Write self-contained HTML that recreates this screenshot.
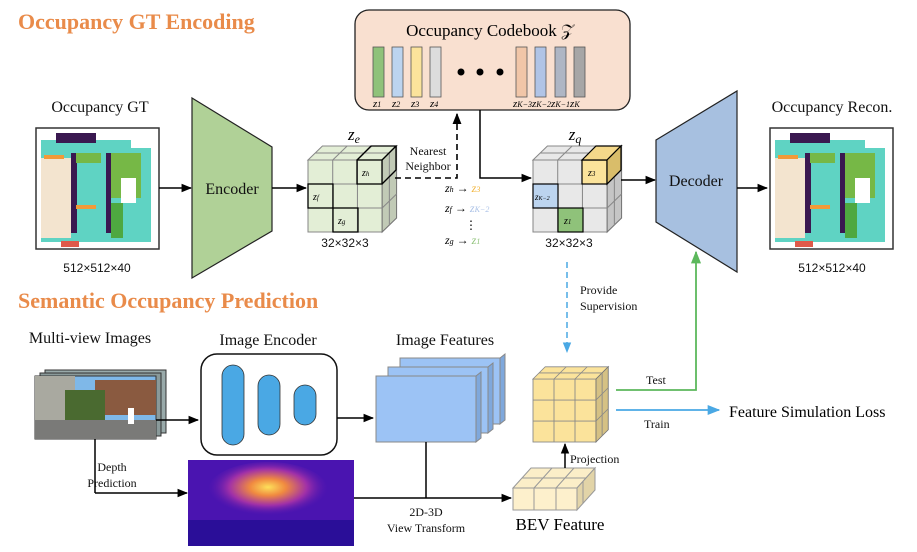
<!DOCTYPE html>
<html><head><meta charset="utf-8"><style>
html,body{margin:0;padding:0;background:#fff;}
svg{display:block;font-family:"Liberation Serif",serif;}
.t{font-size:16px;fill:#111;}
.s{font-size:12px;fill:#111;}
</style></head><body>
<svg width="917" height="552" viewBox="0 0 917 552" xmlns="http://www.w3.org/2000/svg">
<defs>
<marker id="a" viewBox="0 0 10 10" refX="9" refY="5" markerWidth="7" markerHeight="7" orient="auto"><path d="M0,1 L10,5 L0,9 z" fill="#000"/></marker>
<marker id="ab" viewBox="0 0 10 10" refX="9" refY="5" markerWidth="7" markerHeight="7" orient="auto"><path d="M0,1 L10,5 L0,9 z" fill="#4aa8e4"/></marker>
<marker id="ag" viewBox="0 0 10 10" refX="9" refY="5" markerWidth="7" markerHeight="7" orient="auto"><path d="M0,1 L10,5 L0,9 z" fill="#5cb85c"/></marker>
<g id="cube" stroke="#888" stroke-width="1">
 <rect x="0" y="0" width="72" height="72"/>
 <polygon points="0,0 14,-14 86,-14 72,0"/>
 <polygon points="72,0 86,-14 86,58 72,72" style="filter:brightness(0.85)"/>
 <path d="M24,0V72M48,0V72M0,24H72M0,48H72M24,0L38,-14M48,0L62,-14M7,-7H79M79,-7V65M72,24L86,10M72,48L86,34" fill="none"/>
</g>
<g id="map">
 <rect x="0" y="0" width="123" height="121" fill="#fff" stroke="#333" stroke-width="1.5"/>
 <rect x="5" y="12" width="110" height="102" fill="#5fd3c3"/>
 <rect x="5" y="30" width="30" height="80" fill="#f3e4cf"/>
 <rect x="20" y="5" width="40" height="10" fill="#3a1850"/>
 <rect x="35" y="25" width="6" height="80" fill="#3a1850"/>
 <rect x="70" y="25" width="5" height="80" fill="#3a1850"/>
 <rect x="75" y="25" width="30" height="45" fill="#76b846"/>
 <rect x="40" y="25" width="25" height="10" fill="#76b846"/>
 <rect x="75" y="75" width="12" height="35" fill="#4ea840"/>
 <rect x="8" y="27" width="20" height="4" fill="#f29a38"/>
 <rect x="40" y="77" width="20" height="4" fill="#f29a38"/>
 <rect x="25" y="113" width="18" height="6" fill="#e05a4a"/>
 <rect x="85" y="50" width="15" height="25" fill="#fff"/>
 <rect x="95" y="5" width="22" height="15" fill="#fff"/>
</g>
</defs>

<text x="18" y="29" font-size="22" font-weight="bold" fill="#e98b4a">Occupancy GT Encoding</text>
<text x="18" y="308" font-size="22" font-weight="bold" fill="#e98b4a">Semantic Occupancy Prediction</text>

<rect x="355" y="10" width="275" height="100" rx="14" fill="#f9e0d0" stroke="#222" stroke-width="1.3"/>
<text x="490" y="36" text-anchor="middle" font-size="17">Occupancy Codebook 𝒵</text>
<g stroke="#555" stroke-width="0.8">
 <rect x="373" y="47" width="11" height="50" fill="#8fc27a"/>
 <rect x="392" y="47" width="11" height="50" fill="#bcd4ef"/>
 <rect x="411" y="47" width="11" height="50" fill="#fbe39b"/>
 <rect x="430" y="47" width="11" height="50" fill="#dcdcdc"/>
 <rect x="516" y="47" width="11" height="50" fill="#f1c6a8"/>
 <rect x="535" y="47" width="11" height="50" fill="#b0c4e6"/>
 <rect x="555" y="47" width="11" height="50" fill="#aeb6c4"/>
 <rect x="574" y="47" width="11" height="50" fill="#a6a6a6"/>
</g>
<circle cx="461" cy="72" r="3.5"/><circle cx="480" cy="72" r="3.5"/><circle cx="500" cy="72" r="3.5"/>
<g font-size="11" font-style="italic"><text x="373" y="107">z<tspan font-size="8">1</tspan></text><text x="392" y="107">z<tspan font-size="8">2</tspan></text><text x="411" y="107">z<tspan font-size="8">3</tspan></text><text x="430" y="107">z<tspan font-size="8">4</tspan></text><text x="513" y="107">z<tspan font-size="8">K−3</tspan>z<tspan font-size="8">K−2</tspan>z<tspan font-size="8">K−1</tspan>z<tspan font-size="8">K</tspan></text></g>

<text x="100" y="112" text-anchor="middle" class="t">Occupancy GT</text>
<use href="#map" x="36" y="128"/>
<text x="97" y="272" text-anchor="middle" class="s" font-family="Liberation Sans">512×512×40</text>
<line x1="159" y1="188" x2="191" y2="188" stroke="#000" stroke-width="1.5" marker-end="url(#a)"/>
<polygon points="192,98 272,147 272,231 192,278" fill="#b0d197" stroke="#222" stroke-width="1.2"/>
<text x="232" y="194" text-anchor="middle" class="t">Encoder</text>
<line x1="272" y1="188" x2="306" y2="188" stroke="#000" stroke-width="1.5" marker-end="url(#a)"/>

<g transform="translate(308,160) scale(1.03,1)" fill="#e3eed6"><use href="#cube"/></g>
<g fill="none" stroke="#000" stroke-width="1.3"><rect x="308" y="184" width="25" height="24"/><rect x="333" y="208" width="25" height="24"/><rect x="357" y="160" width="25" height="24"/><polyline points="357,160 371,146 396,146 382,160"/><polyline points="382,184 396,170 396,146"/></g>
<g font-size="10" font-style="italic"><text x="313" y="200">z<tspan font-size="7">f</tspan></text><text x="338" y="224">z<tspan font-size="7">g</tspan></text><text x="362" y="176">z<tspan font-size="7">h</tspan></text></g>
<text x="354" y="140" font-size="17" font-style="italic" text-anchor="middle">z<tspan font-size="12" dy="3">e</tspan></text>
<text x="345" y="247" text-anchor="middle" class="s" font-family="Liberation Sans">32×32×3</text>

<path d="M395,178 H457 V114" fill="none" stroke="#000" stroke-width="1.6" stroke-dasharray="6,4" marker-end="url(#a)"/>
<text x="428" y="155" text-anchor="middle" class="s">Nearest</text>
<text x="428" y="170" text-anchor="middle" class="s">Neighbor</text>
<path d="M480,110 V178 H531" fill="none" stroke="#000" stroke-width="1.5" marker-end="url(#a)"/>
<g font-size="12" font-style="italic">
<text x="445" y="192">z<tspan font-size="8">h</tspan> <tspan font-style="normal">→</tspan> <tspan fill="#f2b43a">z<tspan font-size="8">3</tspan></tspan></text>
<text x="445" y="212">z<tspan font-size="8">f</tspan> <tspan font-style="normal">→</tspan> <tspan fill="#a9c0e6">z<tspan font-size="8">K−2</tspan></tspan></text>
<text x="465" y="229" font-style="normal">⋮</text>
<text x="445" y="244">z<tspan font-size="8">g</tspan> <tspan font-style="normal">→</tspan> <tspan fill="#8fc27a">z<tspan font-size="8">1</tspan></tspan></text>
</g>

<g transform="translate(533,160) scale(1.03,1)" fill="#e8e8e8"><use href="#cube"/></g>
<g stroke="#000" stroke-width="1.2"><rect x="582" y="160" width="25" height="24" fill="#fbe39b"/><polygon points="582,160 596,146 621,146 607,160" fill="#f4d88a"/><polygon points="607,160 621,146 621,170 607,184" fill="#d9bd6a"/><rect x="533" y="184" width="25" height="24" fill="#bcd4ef"/><rect x="558" y="208" width="25" height="24" fill="#8fc27a"/></g>
<g font-size="10" font-style="italic"><text x="588" y="176">z<tspan font-size="7">3</tspan></text><text x="535" y="200" font-size="9">z<tspan font-size="6">K−2</tspan></text><text x="564" y="224">z<tspan font-size="7">1</tspan></text></g>
<text x="575" y="140" font-size="17" font-style="italic" text-anchor="middle">z<tspan font-size="12" dy="3">q</tspan></text>
<text x="569" y="247" text-anchor="middle" class="s" font-family="Liberation Sans">32×32×3</text>
<line x1="621" y1="180" x2="655" y2="180" stroke="#000" stroke-width="1.5" marker-end="url(#a)"/>

<polygon points="656,140 737,91 737,272 656,222" fill="#a7c0e0" stroke="#222" stroke-width="1.2"/>
<text x="696" y="186" text-anchor="middle" class="t">Decoder</text>
<line x1="737" y1="188" x2="767" y2="188" stroke="#000" stroke-width="1.5" marker-end="url(#a)"/>
<text x="832" y="112" text-anchor="middle" class="t">Occupancy Recon.</text>
<use href="#map" x="770" y="128"/>
<text x="832" y="272" text-anchor="middle" class="s" font-family="Liberation Sans">512×512×40</text>

<line x1="567" y1="262" x2="567" y2="352" stroke="#4aa8e4" stroke-width="1.5" stroke-dasharray="6,4" marker-end="url(#ab)"/>
<text x="580" y="294" class="s">Provide</text>
<text x="580" y="310" class="s">Supervision</text>

<text x="90" y="343" text-anchor="middle" class="t">Multi-view Images</text>
<rect x="45" y="370" width="121" height="63" fill="#9aa" stroke="#333"/>
<rect x="40" y="373" width="121" height="63" fill="#8a9a9a" stroke="#333"/>
<g>
<rect x="35" y="376" width="121" height="63" fill="#7fb8e8" stroke="#333"/>
<rect x="35" y="376" width="40" height="50" fill="#a9a9a0"/>
<rect x="95" y="380" width="61" height="35" fill="#8a5a40"/>
<rect x="65" y="390" width="40" height="30" fill="#4a6a30"/>
<polygon points="35,420 156,420 156,439 35,439" fill="#7a7a78"/>
<rect x="128" y="408" width="6" height="16" fill="#fff"/>
</g>
<line x1="156" y1="420" x2="198" y2="420" stroke="#000" stroke-width="1.5" marker-end="url(#a)"/>
<line x1="95" y1="439" x2="95" y2="493" stroke="#000" stroke-width="1.5"/>
<line x1="95" y1="493" x2="187" y2="493" stroke="#000" stroke-width="1.5" marker-end="url(#a)"/>
<text x="112" y="471" text-anchor="middle" class="s">Depth</text>
<text x="112" y="487" text-anchor="middle" class="s">Prediction</text>

<text x="268" y="345" text-anchor="middle" class="t">Image Encoder</text>
<rect x="201" y="354" width="136" height="101" rx="16" fill="#fff" stroke="#111" stroke-width="1.5"/>
<rect x="222" y="365" width="22" height="80" rx="11" fill="#4aa8e4" stroke="#333" stroke-width="0.8"/>
<rect x="258" y="375" width="22" height="60" rx="11" fill="#4aa8e4" stroke="#333" stroke-width="0.8"/>
<rect x="294" y="385" width="22" height="40" rx="11" fill="#4aa8e4" stroke="#333" stroke-width="0.8"/>
<line x1="337" y1="418" x2="373" y2="418" stroke="#000" stroke-width="1.5" marker-end="url(#a)"/>

<text x="445" y="345" text-anchor="middle" class="t">Image Features</text>
<g stroke="#888" stroke-width="1" fill="#9cc3f5">
<rect x="400" y="358" width="100" height="66"/><polygon points="500,358 505,354 505,420 500,424" fill="#7fa8dc"/>
<rect x="388" y="367" width="100" height="66"/><polygon points="488,367 493,363 493,429 488,433" fill="#7fa8dc"/>
<rect x="376" y="376" width="100" height="66"/><polygon points="476,376 481,372 481,438 476,442" fill="#7fa8dc"/>
</g>
<line x1="426" y1="442" x2="426" y2="498" stroke="#000" stroke-width="1.5"/>

<defs><radialGradient id="dg" cx="0.5" cy="0.45" r="0.5"><stop offset="0" stop-color="#fde05a"/><stop offset="0.3" stop-color="#f08a40"/><stop offset="0.65" stop-color="#a030a8"/><stop offset="1" stop-color="#5a18b0" stop-opacity="0"/></radialGradient></defs>
<rect x="188" y="460" width="166" height="86" fill="#4a14b0"/>
<ellipse cx="268" cy="490" rx="60" ry="28" fill="url(#dg)"/>
<rect x="188" y="520" width="166" height="26" fill="#2a0e98"/>
<line x1="354" y1="498" x2="511" y2="498" stroke="#000" stroke-width="1.5" marker-end="url(#a)"/>
<text x="426" y="516" text-anchor="middle" class="s">2D-3D</text>
<text x="426" y="532" text-anchor="middle" class="s">View Transform</text>

<g stroke="#999" stroke-width="1" fill="#fdf0cc">
<rect x="513" y="488" width="64" height="22"/>
<polygon points="513,488 531,468 595,468 577,488" fill="#fbeec8"/>
<polygon points="577,488 595,468 595,490 577,510" fill="#e2d4a8"/>
<path d="M534,488V510M556,488V510M534,488L552,468M556,488L574,468M522,478H586M583,481V503" fill="none"/>
</g>
<text x="560" y="530" text-anchor="middle" font-size="17">BEV Feature</text>
<line x1="565" y1="468" x2="565" y2="444" stroke="#000" stroke-width="1.5" marker-end="url(#a)"/>
<text x="570" y="463" class="s">Projection</text>

<g transform="translate(533,379) scale(0.875,0.875)" fill="#fbe39b"><use href="#cube"/></g>
<path d="M616,390 H696 V252" fill="none" stroke="#5cb85c" stroke-width="1.8" marker-end="url(#ag)"/>
<line x1="616" y1="410" x2="719" y2="410" stroke="#4aa8e4" stroke-width="1.8" marker-end="url(#ab)"/>
<text x="646" y="384" class="s">Test</text>
<text x="644" y="428" class="s">Train</text>
<text x="729" y="417" font-size="16">Feature Simulation Loss</text>
</svg>
</body></html>
